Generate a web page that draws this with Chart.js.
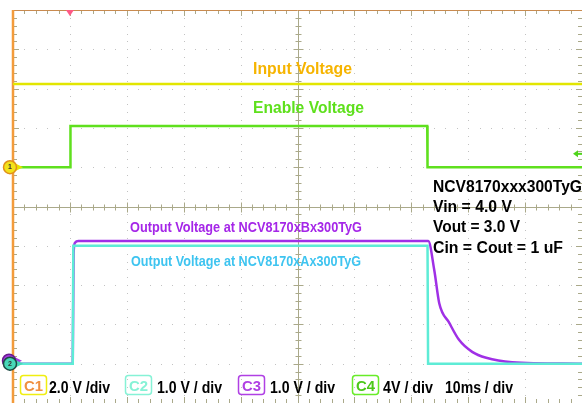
<!DOCTYPE html>
<html>
<head>
<meta charset="utf-8">
<script src="https://cdn.jsdelivr.net/npm/chart.js@4"></script>
<style>
html, body { margin: 0; padding: 0; background: #fff; }
#wrap { width: 582px; height: 403px; }
</style>
</head>
<body>
<div id="wrap"><canvas id="scope"></canvas></div>
<script>
// Scope settings (screen is 10 x 10 divisions, 10 ms/div)
const channelNames = ['C1', 'C2', 'C3', 'C4'];
const voltsPerDiv = [2.0, 1.0, 1.0, 4.0];
const groundDiv = [6.0, 1.0, 1.0, 6.0];
const scaleLabels = ['2.0 V /div', '1.0 V / div', '1.0 V / div', '4V / div'];
const timebaseLabel = '10ms / div';
const triggerTime = 10;      // ms
const triggerLevel = 1.36;   // V on C4

// C1 - input voltage
const inputTime = [0, 100];
const inputVolts = [4.24, 4.24];
// C4 - enable
const enableTime = [0, 10.05, 10.1, 72.8, 72.85, 100];
const enableVolts = [0, 0, 4.2, 4.2, 0, 0];
// C2 - output, xA version
const outATime = [0, 10.5, 10.6, 72.85, 72.95, 100];
const outAVolts = [0, 0, 3.0, 3.0, 0, 0];
// C3 - output, xB version (slow discharge)
const outBTime = [0, 10.5, 10.65, 10.9, 11.5, 72.98, 74.04, 74.91, 76.67, 78.42, 80.7, 83.16, 87.72, 100];
const outBVolts = [0, 0, 2.8, 3.08, 3.12, 3.12, 2.38, 1.54, 1.04, 0.6, 0.3, 0.15, 0.04, 0];

function toDiv(ch, times, volts) {
    return times.map((t, i) => ({ x: t, y: groundDiv[ch] + volts[i] / voltsPerDiv[ch] }));
}

const FONT = '"Liberation Sans", Arial, sans-serif';

function fitText(ctx, str, left, capMid, size, width, color) {
    ctx.save();
    ctx.font = 'bold ' + size + 'px ' + FONT;
    ctx.textAlign = 'left';
    ctx.textBaseline = 'alphabetic';
    const w = ctx.measureText(str).width;
    ctx.translate(left, capMid + size * 0.716 / 2);
    ctx.scale(width / w, 1);
    ctx.fillStyle = color;
    ctx.fillText(str, 0, 0);
    ctx.restore();
}

const scopeGrid = {
    id: 'scopeGrid',
    beforeDatasetsDraw(chart) {
        const { ctx, chartArea: a, scales: { x, y } } = chart;
        ctx.save();
        // dotted graticule
        ctx.fillStyle = '#c2c2c2';
        for (let d = 1; d < 10; d++) {
            if (d === 5) continue;
            const px = Math.round(x.getPixelForValue(d * 10));
            for (let m = 1; m < 50; m++) {
                ctx.fillRect(px, Math.round(y.getPixelForValue(m * 0.2)), 1, 1);
            }
            const py = Math.round(y.getPixelForValue(d));
            for (let m = 1; m < 50; m++) {
                ctx.fillRect(Math.round(x.getPixelForValue(m * 2)), py, 1, 1);
            }
        }
        // centre cross with minor ticks
        const cx = Math.round(x.getPixelForValue(50)) + 0.5;
        const cy = Math.round(y.getPixelForValue(5)) + 0.5;
        ctx.strokeStyle = '#aaa98a';
        ctx.lineWidth = 1;
        ctx.beginPath();
        ctx.moveTo(cx, a.top); ctx.lineTo(cx, a.bottom);
        ctx.moveTo(a.left, cy); ctx.lineTo(a.right, cy);
        for (let m = 1; m < 50; m++) {
            const len = m % 5 === 0 ? 5 : 3;
            const py = Math.round(y.getPixelForValue(m * 0.2)) + 0.5;
            ctx.moveTo(cx - len, py); ctx.lineTo(cx + len, py);
            ctx.moveTo(a.left, py); ctx.lineTo(a.left + len + 1, py);
            ctx.moveTo(a.right, py); ctx.lineTo(a.right - len - 1, py);
            const px = Math.round(x.getPixelForValue(m * 2)) + 0.5;
            ctx.moveTo(px, cy - len); ctx.lineTo(px, cy + len);
            ctx.moveTo(px, a.top); ctx.lineTo(px, a.top + len + 1);
            ctx.moveTo(px, a.bottom); ctx.lineTo(px, a.bottom - len - 1);
        }
        ctx.stroke();
        // frame
        ctx.strokeStyle = '#c98b50';
        ctx.beginPath();
        ctx.moveTo(a.left, a.top + 0.5); ctx.lineTo(a.right, a.top + 0.5);
        ctx.stroke();
        ctx.strokeStyle = '#f39b3b';
        ctx.lineWidth = 2.5;
        ctx.beginPath();
        ctx.moveTo(a.left, a.top); ctx.lineTo(a.left, a.bottom);
        ctx.stroke();
        ctx.restore();
    }
};

function marker(ctx, cx, cy, fill, edge, arrow, label) {
    ctx.save();
    ctx.beginPath();
    ctx.moveTo(cx + 5, cy - 4); ctx.lineTo(cx + 13, cy); ctx.lineTo(cx + 5, cy + 4);
    ctx.closePath();
    ctx.fillStyle = arrow; ctx.fill();
    ctx.beginPath();
    ctx.arc(cx, cy, 6.5, 0, Math.PI * 2);
    ctx.fillStyle = fill; ctx.fill();
    ctx.lineWidth = 1.5; ctx.strokeStyle = edge; ctx.stroke();
    if (label) {
        ctx.fillStyle = '#333';
        ctx.font = 'bold 7px ' + FONT;
        ctx.textAlign = 'center'; ctx.textBaseline = 'middle';
        ctx.fillText(label, cx, cy);
    }
    ctx.restore();
}

const scopeOverlay = {
    id: 'scopeOverlay',
    afterDatasetsDraw(chart) {
        const { ctx, chartArea: a, scales: { x, y } } = chart;
        ctx.save();
        // trigger position
        const tx = x.getPixelForValue(triggerTime);
        ctx.beginPath();
        ctx.moveTo(tx - 4, a.top); ctx.lineTo(tx + 4, a.top); ctx.lineTo(tx, a.top + 6);
        ctx.closePath();
        ctx.fillStyle = '#ff5a86'; ctx.fill();
        // trigger level on C4
        const ly = y.getPixelForValue(groundDiv[3] + triggerLevel / voltsPerDiv[3]);
        ctx.beginPath();
        ctx.moveTo(a.right - 9, ly); ctx.lineTo(a.right - 4, ly - 3.5); ctx.lineTo(a.right - 4, ly + 3.5);
        ctx.closePath();
        ctx.fillStyle = '#4fd41a'; ctx.fill();
        ctx.fillRect(a.right - 5, ly - 1, 5, 2);
        // ground markers
        marker(ctx, a.left - 3, y.getPixelForValue(groundDiv[0]), '#f2e21a', '#e0901a', '#e8e000', '1');
        marker(ctx, a.left - 4, y.getPixelForValue(groundDiv[2]) - 3, '#a43be0', '#6a1a90', '#a43be0', '');
        marker(ctx, a.left - 3, y.getPixelForValue(groundDiv[1]), '#48d8b8', '#1e4a44', '#48d8b8', '2');

        // trace labels
        fitText(ctx, 'Input Voltage', 253, 68, 16, 99, '#f6b400');
        fitText(ctx, 'Enable Voltage', 253, 107.5, 16, 111, '#5ee01c');
        fitText(ctx, 'Output Voltage at NCV8170xBx300TyG', 130, 227, 14, 232, '#a526e8');
        fitText(ctx, 'Output Voltage at NCV8170xAx300TyG', 131, 260.5, 14, 230, '#3ec4f0');
        // test conditions
        fitText(ctx, 'NCV8170xxx300TyG', 433, 186.5, 16, 149, '#000');
        fitText(ctx, 'Vin = 4.0 V', 433, 206, 16, 79, '#000');
        fitText(ctx, 'Vout = 3.0 V', 433, 226.5, 16, 87, '#000');
        fitText(ctx, 'Cin = Cout = 1 uF', 433, 247, 16, 130, '#000');

        // channel settings row
        const boxLeft = [20, 125, 238, 352];
        const textLeft = [49, 157, 270, 383];
        const textWidth = [61, 65, 65, 50];
        const boxEdge = ['#f0ee10', '#86f2d6', '#b040e4', '#68ec28'];
        const boxInk = ['#f09040', '#86f2d6', '#b040e4', '#4cc81a'];
        for (let i = 0; i < 4; i++) {
            ctx.beginPath();
            ctx.roundRect(boxLeft[i] + 0.5, 375.5, 26, 19, 3);
            ctx.lineWidth = 1.5; ctx.strokeStyle = boxEdge[i]; ctx.stroke();
            fitText(ctx, channelNames[i], boxLeft[i] + 4, 385.5, 15, 19, boxInk[i]);
            fitText(ctx, scaleLabels[i], textLeft[i], 387, 16, textWidth[i], '#000');
        }
        fitText(ctx, timebaseLabel, 445, 387, 16, 68, '#000');
        ctx.restore();
    }
};

const line = (label, data, color, extra) => Object.assign({
    label: label,
    data: data,
    borderColor: color,
    borderWidth: 2.5,
    pointRadius: 0,
    tension: 0,
    fill: false
}, extra || {});

new Chart(document.getElementById('scope'), {
    type: 'line',
    data: {
        datasets: [
            line('Input Voltage', toDiv(0, inputTime, inputVolts), '#e2e600'),
            line('Enable Voltage', toDiv(3, enableTime, enableVolts), '#5fe01e'),
            line('Output xA', toDiv(1, outATime, outAVolts), '#5eecd6'),
            line('Output xB', toDiv(2, outBTime, outBVolts), '#a030e6', { cubicInterpolationMode: 'monotone' })
        ]
    },
    options: {
        responsive: true,
        maintainAspectRatio: false,
        animation: false,
        layout: { padding: { left: 13, top: 10, right: 0, bottom: 0 } },
        plugins: { legend: { display: false }, tooltip: { enabled: false } },
        scales: {
            x: { type: 'linear', min: 0, max: 100, display: false },
            y: { type: 'linear', min: 0, max: 10, display: false }
        }
    },
    plugins: [scopeGrid, scopeOverlay]
});
</script>
</body>
</html>
